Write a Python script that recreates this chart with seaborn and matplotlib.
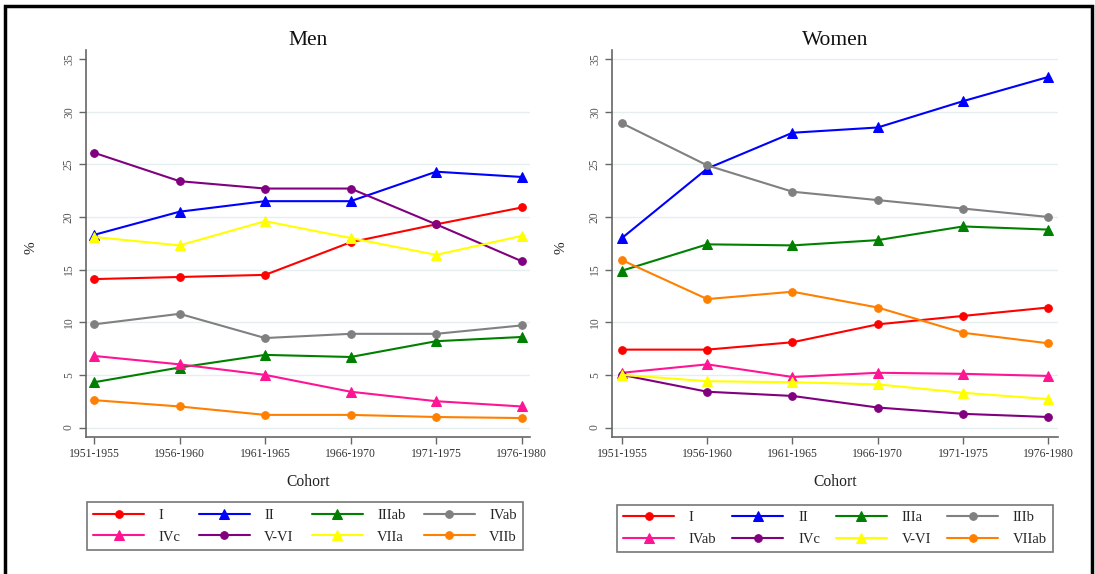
import matplotlib
matplotlib.use("Agg")
import matplotlib.pyplot as plt
import seaborn as sns
import pandas as pd
from matplotlib.patches import Rectangle

sns.set_theme(style="white")
plt.rcParams['font.family'] = ['Liberation Serif', 'DejaVu Serif']

cohorts = ["1951-1955", "1956-1960", "1961-1965", "1966-1970", "1971-1975", "1976-1980"]

# Men
men_labels = ["I", "II", "IIIab", "IVab", "IVc", "V-VI", "VIIa", "VIIb"]
men_I = [14.1, 14.3, 14.5, 17.6, 19.3, 20.9]
men_II = [18.3, 20.5, 21.5, 21.5, 24.3, 23.8]
men_IIIab = [4.3, 5.7, 6.9, 6.7, 8.2, 8.6]
men_IVab = [9.8, 10.8, 8.5, 8.9, 8.9, 9.7]
men_IVc = [6.8, 6.0, 5.0, 3.4, 2.5, 2.0]
men_VVI = [26.1, 23.4, 22.7, 22.7, 19.3, 15.8]
men_VIIa = [18.1, 17.3, 19.6, 18.0, 16.4, 18.2]
men_VIIb = [2.6, 2.0, 1.2, 1.2, 1.0, 0.9]

# Women
women_labels = ["I", "II", "IIIa", "IIIb", "IVab", "IVc", "V-VI", "VIIab"]
women_I = [7.4, 7.4, 8.1, 9.8, 10.6, 11.4]
women_II = [18.0, 24.6, 28.0, 28.5, 31.0, 33.3]
women_IIIa = [14.9, 17.4, 17.3, 17.8, 19.1, 18.8]
women_IIIb = [28.9, 24.9, 22.4, 21.6, 20.8, 20.0]
women_IVab = [5.2, 6.0, 4.8, 5.2, 5.1, 4.9]
women_IVc = [5.0, 3.4, 3.0, 1.9, 1.3, 1.0]
women_VVI = [5.0, 4.4, 4.3, 4.1, 3.3, 2.7]
women_VIIab = [15.9, 12.2, 12.9, 11.4, 9.0, 8.0]

colors = ["#ff0000", "#0000ff", "#008000", "#808080", "#ff1493", "#800080", "#ffff00", "#ff8000"]
markers = ["o", "^", "^", "o", "^", "o", "^", "o"]

men_series = [men_I, men_II, men_IIIab, men_IVab, men_IVc, men_VVI, men_VIIa, men_VIIb]
women_series = [women_I, women_II, women_IIIa, women_IIIb, women_IVab, women_IVc, women_VVI, women_VIIab]

fig = plt.figure(figsize=(10.95, 5.74), dpi=100)
W, H = 1095, 574

def px_axes(x0, x1, y_top, y_bot):
    return fig.add_axes([x0 / W, 1 - y_bot / H, (x1 - x0) / W, (y_bot - y_top) / H])

AX_TOP, AX_BOT = 50, 437
ax1 = px_axes(86, 530, AX_TOP, AX_BOT)
ax2 = px_axes(612, 1058, AX_TOP, AX_BOT)

def draw(ax, labels, series, title, grid_top, legend_box, xlim, ax_x0, ax_x1, ylab_x, title_x):
    rows = []
    for lab, vals in zip(labels, series):
        for i, v in enumerate(vals):
            rows.append({"pos": i, "value": v, "class": lab})
    df = pd.DataFrame(rows)
    for y in range(0, grid_top + 1, 5):
        ax.axhline(y, color="#e6eff0", lw=1.0, zorder=0)
    for lab, col, mk in zip(labels, colors, markers):
        sub = df[df["class"] == lab]
        sns.lineplot(data=sub, x="pos", y="value", ax=ax, color=col, marker=mk,
                     markersize=5.5 if mk == "o" else 6.5, markeredgecolor=col,
                     linewidth=1.5, label=lab, legend=False, zorder=3)
    ax.set_xlim(*xlim)
    ax.set_ylim(-0.9, 35.86)
    ax.set_xticks(range(len(cohorts)))
    ax.set_xticklabels(cohorts, fontsize=8.4, color="#333333")
    ax.set_yticks(range(0, 36, 5))
    ax.set_yticklabels([str(v) for v in range(0, 36, 5)], rotation=90, va="center",
                       fontsize=8.4, color="#555555")
    for s in ["top", "right"]:
        ax.spines[s].set_visible(False)
    for s in ["left", "bottom"]:
        ax.spines[s].set_color("#666666")
        ax.spines[s].set_linewidth(1.2)
    ax.tick_params(axis="both", which="both", direction="out", length=5, width=1,
                   color="#666666", left=True, bottom=True, pad=3)
    ax.set_xlabel("Cohort", fontsize=11.2, color="#222222")
    ax.xaxis.label.set_va("center")
    ax.xaxis.set_label_coords(0.5, (AX_BOT - 482) / (AX_BOT - AX_TOP))
    ax.set_ylabel("%", fontsize=11, color="#222222")
    ax.yaxis.label.set_va("center")
    ax.yaxis.set_label_coords((ylab_x - ax_x0) / (ax_x1 - ax_x0), 0.49)
    ax.set_title(title, fontsize=15.5, color="#111111", pad=0)
    ax.title.set_va("center")
    ax.title.set_position(((title_x - ax_x0) / (ax_x1 - ax_x0), (AX_BOT - 35) / (AX_BOT - AX_TOP)))
    handles, labs = ax.get_legend_handles_labels()
    order = [0, 4, 1, 5, 2, 6, 3, 7]
    handles = [handles[i] for i in order]
    labs = [labs[i] for i in order]
    x0, x1, yt, yb = legend_box
    leg = fig.legend(handles, labs, ncol=4, loc="center", mode="expand",
                     bbox_to_anchor=(x0 / W, 1 - yb / H, (x1 - x0) / W, (yb - yt) / H),
                     frameon=True, fancybox=False, fontsize=10.5, handlelength=3.5,
                     handletextpad=1.0, columnspacing=1.0, borderpad=0.42,
                     labelspacing=0.6, markerfirst=True, borderaxespad=0)
    leg.get_frame().set_edgecolor("#555555")
    leg.get_frame().set_linewidth(1.2)

draw(ax1, men_labels, men_series, "Men", 30, (87, 523, 500, 552), (-0.094, 5.097), 86, 530, 31, 308)
draw(ax2, women_labels, women_series, "Women", 35, (617, 1053, 502, 555), (-0.117, 5.114), 612, 1058, 561, 835)

fig.patches.append(Rectangle((4.5 / W, -0.02), (1092 - 4.5) / W, 1 - 5.5 / H + 0.02,
                             transform=fig.transFigure, fill=False, edgecolor="black",
                             linewidth=2.5))

fig.savefig("out.png", dpi=100)
